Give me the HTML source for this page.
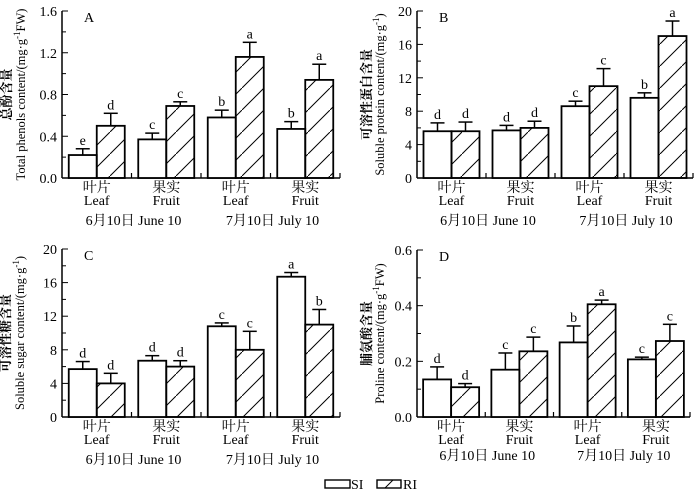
<!DOCTYPE html>
<html><head><meta charset="utf-8">
<style>
html,body{margin:0;padding:0;background:#fff;}
svg{display:block;font-family:"Liberation Serif","Noto Serif CJK SC",serif;}
</style></head>
<body>
<svg id="fig" width="700" height="492" viewBox="0 0 700 492" xmlns="http://www.w3.org/2000/svg">
<defs>
<pattern id="hatch" patternUnits="userSpaceOnUse" width="22" height="22">
<line x1="-2" y1="24" x2="24" y2="-2" stroke="#000" stroke-width="1"/>
</pattern>
</defs>
</svg>
<script>
const groupTop = ["叶片","果实","叶片","果实"];
const groupBottom = ["Leaf","Fruit","Leaf","Fruit"];
const dates = ["6月10日  June 10","7月10日  July 10"];

const aSI = [0.22,0.37,0.58,0.47];
const aSIerr = [0.06,0.06,0.07,0.07];
const aRI = [0.50,0.69,1.16,0.94];
const aRIerr = [0.12,0.04,0.14,0.15];
const aSIlet = ["e","c","b","b"];
const aRIlet = ["d","c","a","a"];
const aTicks = ["0.0","0.4","0.8","1.2","1.6"];

const bSI = [5.6,5.7,8.6,9.6];
const bSIerr = [1.0,0.6,0.6,0.6];
const bRI = [5.6,6.0,11.0,17.0];
const bRIerr = [1.1,0.8,2.1,1.8];
const bSIlet = ["d","d","c","b"];
const bRIlet = ["d","d","c","a"];
const bTicks = ["0","4","8","12","16","20"];

const cSI = [5.7,6.7,10.8,16.7];
const cSIerr = [0.9,0.6,0.4,0.5];
const cRI = [4.0,6.0,8.0,11.0];
const cRIerr = [1.2,0.7,2.2,1.8];
const cSIlet = ["d","d","c","a"];
const cRIlet = ["d","d","c","b"];
const cTicks = ["0","4","8","12","16","20"];

const dSI = [0.135,0.17,0.268,0.207];
const dSIerr = [0.045,0.06,0.059,0.008];
const dRI = [0.107,0.236,0.405,0.273];
const dRIerr = [0.013,0.051,0.015,0.06];
const dSIlet = ["d","c","b","c"];
const dRIlet = ["d","c","a","c"];
const dTicks = ["0.0","0.2","0.4","0.6"];

const NS="http://www.w3.org/2000/svg";
const svg=document.getElementById('fig');
function mk(tag,attrs,parent,text){const e=document.createElementNS(NS,tag);for(const k in attrs)e.setAttribute(k,attrs[k]);if(text!==undefined)e.textContent=text;(parent||svg).appendChild(e);return e;}

function panel(opt){
  const g=mk('g',{});
  
  
  const {x0,x1,y0,y1,max,ticks,minor}=opt;
  const ys=v=>y0-(v/max)*(y0-y1);
  const gw=(x1-x0)/4;
  const ax=mk('line',{x1:x0,y1:y0,x2:x0,y2:y1,stroke:'#000','stroke-width':1.5},g);
  
  
  const xa=mk('line',{x1:x0,y1:y0,x2:x1,y2:y0,stroke:'#000','stroke-width':1.5},g);
  
  
  const n=ticks.length-1;
  for(let i=0;i<=n*minor;i++){
    const v=max*i/(n*minor);const y=ys(v);
    const major=i%minor===0;
    mk('line',{x1:x0,y1:y,x2:x0+(major?6:4),y2:y,stroke:'#000','stroke-width':1},g);
  }
  ticks.forEach((t,i)=>{
    const tl=mk('text',{x:x0-5,y:ys(max*i/n)+5,'text-anchor':'end','font-size':14},g,t);
    
    
  });
  for(let i=1;i<=4;i++){const x=x0+gw*i;mk('line',{x1:x,y1:y0,x2:x,y2:y0-5,stroke:'#000','stroke-width':1.2},g);}
  const bw=28;
  for(let i=0;i<4;i++){
    const c=x0+gw*(i+0.5);
    const series=[[opt.si[i],opt.sie[i],opt.sil[i],c-bw,'#fff','bar-si'],[opt.ri[i],opt.rie[i],opt.ril[i],c,'url(#hatch)','bar-ri']];
    series.forEach(([v,e,l,bx,fill,nm])=>{
      const cx=bx+bw/2, top=ys(v), et=ys(v+e);
      const eb=mk('line',{x1:cx,y1:top,x2:cx,y2:et,stroke:'#000','stroke-width':1.5},g);
      
      
      mk('line',{x1:cx-7,y1:et,x2:cx+7,y2:et,stroke:'#000','stroke-width':1.5},g);
      const r=mk('rect',{x:bx,y:top,width:bw,height:y0-top,fill:fill,stroke:'#000','stroke-width':1.8},g);
      
      
      const lt=mk('text',{x:cx,y:et-4,'text-anchor':'middle','font-size':14},g,l);
      
      
    });
    const t1=mk('text',{x:c,y:y0+14,'text-anchor':'middle','font-size':14},g,groupTop[i]);
    
    
    const t2=mk('text',{x:c,y:y0+27,'text-anchor':'middle','font-size':14},g,groupBottom[i]);
    
    
  }
  for(let j=0;j<2;j++){
    const dt=mk('text',{x:x0+gw*(2*j+1)+2,y:y0+opt.dateOff,'text-anchor':'middle','font-size':14,'xml:space':'preserve'},g,dates[j]);
    
    
  }
  const pl=mk('text',{x:x0+22,y:y1+11,'font-size':14},g,opt.letter);
  
  
  const my=(y0+y1)/2;
  const yt1=mk('text',{x:0,y:0,'text-anchor':'middle','font-size':13,'font-weight':'bold',transform:`translate(${x0-opt.t1},${my}) rotate(-90)`},g,opt.cn);
  
  
  const yt2=mk('text',{x:0,y:0,'text-anchor':'middle','font-size':12.5,transform:`translate(${x0-opt.t2},${my}) rotate(-90)`},g);
  yt2.innerHTML=opt.en;
  
  
}

panel({name:'panel-a-total-phenols',letter:'A',x0:62,x1:340,y0:178,y1:11,max:1.6,ticks:aTicks,minor:2,si:aSI,sie:aSIerr,ri:aRI,rie:aRIerr,sil:aSIlet,ril:aRIlet,dateOff:47,t1:51,t2:37,cn:'总酚含量',en:'Total phenols content/(mg·g<tspan dy="-5" font-size="9">-1</tspan><tspan dy="5">FW)</tspan>'});
panel({name:'panel-b-soluble-protein',letter:'B',x0:417,x1:693,y0:178,y1:11,max:20,ticks:bTicks,minor:2,si:bSI,sie:bSIerr,ri:bRI,rie:bRIerr,sil:bSIlet,ril:bRIlet,dateOff:47,t1:46,t2:33,cn:'可溶性蛋白含量',en:'Soluble protein content/(mg·g<tspan dy="-5" font-size="9">-1</tspan><tspan dy="5">)</tspan>'});
panel({name:'panel-c-soluble-sugar',letter:'C',x0:62,x1:340,y0:417,y1:249,max:20,ticks:cTicks,minor:2,si:cSI,sie:cSIerr,ri:cRI,rie:cRIerr,sil:cSIlet,ril:cRIlet,dateOff:47,t1:52,t2:38,cn:'可溶性糖含量',en:'Soluble sugar content/(mg·g<tspan dy="-5" font-size="9">-1</tspan><tspan dy="5">)</tspan>'});
panel({name:'panel-d-proline',letter:'D',x0:417,x1:690,y0:417,y1:250,max:0.6,ticks:dTicks,minor:2,si:dSI,sie:dSIerr,ri:dRI,rie:dRIerr,sil:dSIlet,ril:dRIlet,dateOff:43,t1:46,t2:33,cn:'脯氨酸含量',en:'Proline content/(mg·g<tspan dy="-5" font-size="9">-1</tspan><tspan dy="5">FW)</tspan>'});

const lg=mk('g',{});


const l1=mk('rect',{x:325,y:480,width:25,height:8,fill:'#fff',stroke:'#000','stroke-width':1.4},lg);


const lt1=mk('text',{x:351,y:489,'font-size':14},lg,'SI');


const l2=mk('rect',{x:377,y:480,width:24,height:8,fill:'#fff',stroke:'#000','stroke-width':1.4},lg);


mk('line',{x1:385,y1:488,x2:393,y2:480,stroke:'#000','stroke-width':1},lg);
const lt2=mk('text',{x:403,y:489,'font-size':14},lg,'RI');


</script>
</body></html>
